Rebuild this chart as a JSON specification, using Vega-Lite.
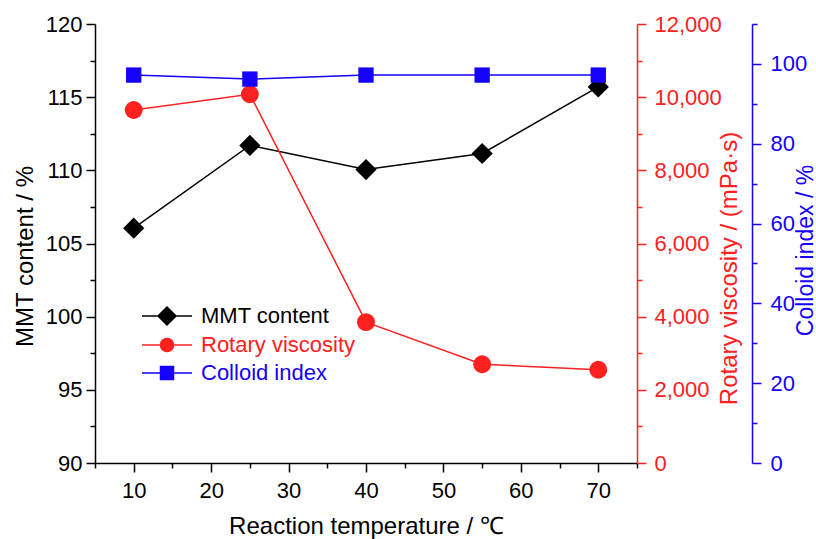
{
  "$schema": "https://vega.github.io/schema/vega-lite/v6.json",
  "width": 542,
  "height": 439,
  "autosize": {"type": "none"},
  "padding": {"left": 95, "top": 24, "right": 179, "bottom": 76},
  "background": "white",
  "data": {"values": [
    {"temp": 10, "series": "MMT content", "value": 106.05},
    {"temp": 25, "series": "MMT content", "value": 111.7},
    {"temp": 40, "series": "MMT content", "value": 110.05},
    {"temp": 55, "series": "MMT content", "value": 111.15},
    {"temp": 70, "series": "MMT content", "value": 115.7},
    {"temp": 10, "series": "Rotary viscosity", "value": 9650},
    {"temp": 25, "series": "Rotary viscosity", "value": 10080},
    {"temp": 40, "series": "Rotary viscosity", "value": 3850},
    {"temp": 55, "series": "Rotary viscosity", "value": 2700},
    {"temp": 70, "series": "Rotary viscosity", "value": 2550},
    {"temp": 10, "series": "Colloid index", "value": 97.2},
    {"temp": 25, "series": "Colloid index", "value": 96.2},
    {"temp": 40, "series": "Colloid index", "value": 97.2},
    {"temp": 55, "series": "Colloid index", "value": 97.2},
    {"temp": 70, "series": "Colloid index", "value": 97.2}
  ]},
  "config": {
    "font": "Liberation Sans",
    "view": {"stroke": null},
    "axis": {
      "labelFont": "Liberation Sans",
      "titleFont": "Liberation Sans",
      "labelFontSize": 22,
      "titleFontSize": 24,
      "titleFontWeight": "normal",
      "grid": false,
      "domainWidth": 1.5,
      "tickWidth": 1.5,
      "labelFlush": false,
      "labelOverlap": false
    },
    "legend": {
      "title": null,
      "orient": "none",
      "padding": 0,
      "symbolSize": 100,
      "symbolStrokeWidth": 1.5,
      "symbolOpacity": 1,
      "labelFont": "Liberation Sans",
      "labelFontSize": 22,
      "labelOffset": 23,
      "legendX": 61
    }
  },
  "encoding": {
    "x": {
      "field": "temp",
      "type": "quantitative",
      "scale": {"domain": [5, 75], "nice": false, "zero": false},
      "axis": {
        "title": "Reaction temperature / ℃",
        "values": [5, 10, 15, 20, 25, 30, 35, 40, 45, 50, 55, 60, 65, 70, 75],
        "labelExpr": "datum.value % 10 === 0 ? datum.label : ''",
        "tickSize": {"condition": {"test": "datum.value % 10 === 0", "value": 9}, "value": 5},
        "domainColor": "black",
        "tickColor": "black",
        "labelColor": "black",
        "titleColor": "black",
        "labelPadding": 8,
        "titleBaseline": "alphabetic",
        "titleY": 70
      }
    }
  },
  "layer": [
    {
      "transform": [{"filter": "datum.series === 'MMT content'"}],
      "encoding": {
        "y": {
          "field": "value",
          "type": "quantitative",
          "scale": {"domain": [90, 120], "nice": false, "zero": false},
          "axis": {
            "orient": "left",
            "title": "MMT content / %",
            "values": [90, 92.5, 95, 97.5, 100, 102.5, 105, 107.5, 110, 112.5, 115, 117.5, 120],
            "labelExpr": "datum.value % 5 === 0 ? datum.label : ''",
            "tickSize": {"condition": {"test": "datum.value % 5 === 0", "value": 9}, "value": 5},
            "domainColor": "black",
            "tickColor": "black",
            "labelColor": "black",
            "titleColor": "black",
            "labelPadding": 4,
            "titleAngle": 270,
            "titleBaseline": "alphabetic",
            "titleX": -63,
            "titleY": 232
          }
        }
      },
      "layer": [
        {"mark": {"type": "line", "color": "black", "strokeWidth": 1.5}},
        {
          "mark": {"type": "point", "shape": "diamond", "filled": true, "size": 450, "opacity": 1, "strokeWidth": 0},
          "encoding": {
            "color": {
              "field": "series",
              "type": "nominal",
              "scale": {"domain": ["MMT content"], "range": ["black"]},
              "legend": {
                "legendY": 281,
                "symbolType": "M-5,0H5M0,-1.8L1.8,0L0,1.8L-1.8,0Z",
                "symbolStrokeColor": "black",
                "symbolFillColor": "black",
                "labelColor": "black"
              }
            }
          }
        }
      ]
    },
    {
      "transform": [{"filter": "datum.series === 'Rotary viscosity'"}],
      "encoding": {
        "y": {
          "field": "value",
          "type": "quantitative",
          "scale": {"domain": [0, 12000], "nice": false, "zero": false},
          "axis": {
            "orient": "right",
            "title": "Rotary viscosity  / (mPa·s)",
            "values": [0, 1000, 2000, 3000, 4000, 5000, 6000, 7000, 8000, 9000, 10000, 11000, 12000],
            "format": ",d",
            "labelExpr": "datum.value % 2000 === 0 ? datum.label : ''",
            "tickSize": {"condition": {"test": "datum.value % 2000 === 0", "value": 9}, "value": 5},
            "domainColor": "#ff2020",
            "tickColor": "#ff2020",
            "labelColor": "#ff2020",
            "titleColor": "#ff2020",
            "labelPadding": 8,
            "titleAngle": 270,
            "titleBaseline": "alphabetic",
            "titleX": 99,
            "titleY": 244
          }
        }
      },
      "layer": [
        {"mark": {"type": "line", "color": "#ff2020", "strokeWidth": 1.5}},
        {
          "mark": {"type": "point", "shape": "circle", "filled": true, "size": 320, "opacity": 1, "strokeWidth": 0},
          "encoding": {
            "color": {
              "field": "series",
              "type": "nominal",
              "scale": {"domain": ["Rotary viscosity"], "range": ["#ff2020"]},
              "legend": {
                "legendY": 310,
                "symbolType": "M-5,0H5M-1.3,0A1.3,1.3,0,1,0,1.3,0A1.3,1.3,0,1,0,-1.3,0Z",
                "symbolStrokeColor": "#ff2020",
                "symbolFillColor": "#ff2020",
                "labelColor": "#ff2020"
              }
            }
          }
        }
      ]
    },
    {
      "transform": [{"filter": "datum.series === 'Colloid index'"}],
      "encoding": {
        "y": {
          "field": "value",
          "type": "quantitative",
          "scale": {"domain": [0, 110], "nice": false, "zero": false},
          "axis": {
            "orient": "right",
            "offset": 115,
            "title": "Colloid index  / %",
            "values": [0, 10, 20, 30, 40, 50, 60, 70, 80, 90, 100, 110],
            "labelExpr": "datum.value % 20 === 0 && datum.value <= 100 ? datum.label : ''",
            "tickSize": {"condition": {"test": "datum.value % 20 === 0", "value": 9}, "value": 5},
            "domainColor": "#1500ff",
            "tickColor": "#1500ff",
            "labelColor": "#1500ff",
            "titleColor": "#1500ff",
            "titleFontSize": 23,
            "labelPadding": 9,
            "titleAngle": 270,
            "titleBaseline": "alphabetic",
            "titleX": 60,
            "titleY": 226
          }
        }
      },
      "layer": [
        {"mark": {"type": "line", "color": "#1500ff", "strokeWidth": 1.5}},
        {
          "mark": {"type": "point", "shape": "square", "filled": true, "size": 235, "opacity": 1, "strokeWidth": 0},
          "encoding": {
            "color": {
              "field": "series",
              "type": "nominal",
              "scale": {"domain": ["Colloid index"], "range": ["#1500ff"]},
              "legend": {
                "legendY": 338,
                "symbolType": "M-5,0H5M-1.3,-1.3H1.3V1.3H-1.3Z",
                "symbolStrokeColor": "#1500ff",
                "symbolFillColor": "#1500ff",
                "labelColor": "#1500ff"
              }
            }
          }
        }
      ]
    }
  ],
  "resolve": {"scale": {"y": "independent", "color": "independent"}}
}
